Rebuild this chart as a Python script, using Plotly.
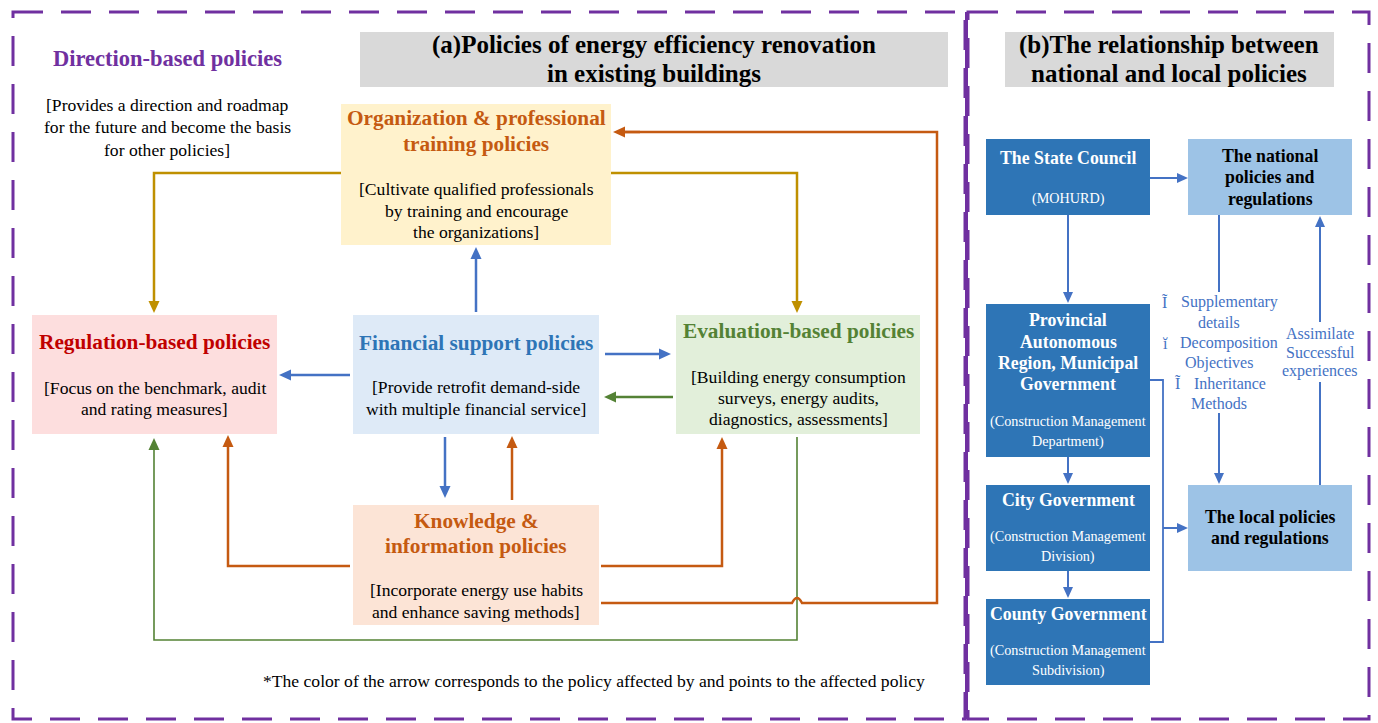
import plotly.graph_objects as go

# ---------------- text content ----------------
title_a = ["(a)Policies of energy efficiency renovation", "in existing buildings"]
title_b = ["(b)The relationship between", "national and local policies"]
direction_title = "Direction-based policies"
direction_desc = ["[Provides a direction and roadmap", "for the future and become the basis", "for other policies]"]

policy_keys = ["org", "reg", "fin", "eval", "know"]
policy_titles = {
    "org": ["Organization & professional", "training policies"],
    "reg": ["Regulation-based policies"],
    "fin": ["Financial support policies"],
    "eval": ["Evaluation-based policies"],
    "know": ["Knowledge &", "information policies"],
}
policy_descs = {
    "org": ["[Cultivate qualified professionals", "by training and encourage", "the organizations]"],
    "reg": ["[Focus on the benchmark, audit", "and rating measures]"],
    "fin": ["[Provide retrofit demand-side", "with multiple financial service]"],
    "eval": ["[Building energy consumption", "surveys, energy audits,", "diagnostics, assessments]"],
    "know": ["[Incorporate energy use habits", "and enhance saving methods]"],
}
footnote = "*The color of the arrow corresponds to the policy affected by and points to the affected policy"

gov_keys = ["state", "prov", "city", "county"]
gov_titles = {
    "state": ["The State Council"],
    "prov": ["Provincial", "Autonomous", "Region, Municipal", "Government"],
    "city": ["City Government"],
    "county": ["County Government"],
}
gov_subs = {
    "state": ["(MOHURD)"],
    "prov": ["(Construction Management", "Department)"],
    "city": ["(Construction Management", "Division)"],
    "county": ["(Construction Management", "Subdivision)"],
}
reg_keys = ["national", "local"]
reg_titles = {
    "national": ["The national", "policies and", "regulations"],
    "local": ["The local policies", "and regulations"],
}
down_notes = [("Ĩ", "Supplementary"), ("", "details"), ("ĭ", "Decomposition"),
              ("", "Objectives"), ("Ĩ", "Inheritance"), ("", "Methods")]
up_notes = ["Assimilate", "Successful", "experiences"]

# ---------------- layout / styles ----------------
W, H = 1378, 723
SERIF = "Liberation Serif"
PURPLE = "#7030A0"
GOLD = "#BF9000"
BLUE = "#4472C4"
GREEN = "#548235"
ORANGE = "#C55A11"

FS_TITLE = 25
FS_DIR = 22.5
FS_BOX = 21.3
FS_DESC = 17.6
FS_GOV = 17.8
FS_SUB = 14.2
FS_NOTE = 16

box_geom = {
    "org": (341, 104, 611, 245, "#FFF2CC", ORANGE, [118, 144], [189, 211, 232]),
    "reg": (32, 315, 277, 434, "#FDDEDE", "#C00000", [342], [388, 409]),
    "fin": (353, 315, 599, 434, "#DEEAF7", "#2E75B6", [343], [387, 409]),
    "eval": (676, 315, 920, 434, "#E2EFDA", GREEN, [331], [377, 398, 419]),
    "know": (353, 505, 599, 625, "#FCE4D6", ORANGE, [521, 546], [590, 612]),
}
gov_geom = {
    "state": (986, 139, 1150, 215, [158], [198]),
    "prov": (986, 304, 1150, 457, [320, 342, 363, 384], [421, 441]),
    "city": (986, 485, 1150, 571, [500], [536, 556]),
    "county": (986, 599, 1150, 685, [614], [650, 670]),
}
reg_geom = {
    "national": (1188, 139, 1352, 215, [156, 177, 199]),
    "local": (1188, 485, 1352, 571, [517, 538]),
}

shapes = []
annotations = []


def text(x, y, s, size, color="black", bold=False, xanchor="center"):
    annotations.append(dict(
        x=x, y=y, xref="x", yref="y", text=f"<b>{s}</b>" if bold else s,
        showarrow=False, xanchor=xanchor, yanchor="middle",
        font=dict(family=SERIF, size=size, color=color)))


def rect(x0, y0, x1, y1, fill, line=None, dash=None, lw=0):
    shapes.append(dict(type="rect", xref="x", yref="y", x0=x0, y0=y0, x1=x1, y1=y1,
                       fillcolor=fill, line=dict(width=lw, color=line or fill, dash=dash),
                       layer="below"))


def connector(points, color, width=2.5, head=True, hl=12, hw=5.5):
    pts = list(points)
    if head:
        (xa, ya), (xb, yb) = pts[-2], pts[-1]
        dx = (xb > xa) - (xb < xa)
        dy = (yb > ya) - (yb < ya)
        base = (xb - dx * hl, yb - dy * hl)
        pts[-1] = (xb - dx * (hl - 2), yb - dy * (hl - 2))
        px, py = -dy * hw, dx * hw
        tri = f"M {xb},{yb} L {base[0]+px},{base[1]+py} L {base[0]-px},{base[1]-py} Z"
        shapes.append(dict(type="path", path=tri, xref="x", yref="y",
                           fillcolor=color, line=dict(width=0, color=color)))
    path = "M " + " L ".join(f"{x},{y}" for x, y in pts)
    shapes.append(dict(type="path", path=path, xref="x", yref="y",
                       line=dict(width=width, color=color)))


# panel borders
shapes.append(dict(type="rect", xref="x", yref="y", x0=13, y0=12, x1=965, y1=719,
                   line=dict(color=PURPLE, width=3, dash="30px,18px")))
shapes.append(dict(type="rect", xref="x", yref="y", x0=968, y0=12, x1=1369, y1=719,
                   line=dict(color=PURPLE, width=3, dash="30px,18px")))
shapes.append(dict(type="line", xref="x", yref="y", x0=966.5, y0=12, x1=966.5, y1=719,
                   line=dict(color=PURPLE, width=3)))

# titles
rect(360, 32, 948, 87, "#D9D9D9")
text(654, 45, title_a[0], FS_TITLE, bold=True)
text(654, 73, title_a[1], FS_TITLE, bold=True)
rect(1005, 32, 1334, 87, "#D9D9D9")
text(1169, 45, title_b[0], FS_TITLE, bold=True)
text(1169, 73, title_b[1], FS_TITLE, bold=True)

text(167, 58, direction_title, FS_DIR, PURPLE, bold=True)
for yy, s in zip([105, 127, 150], direction_desc):
    text(167, yy, s, FS_DESC)

# policy boxes
for k in policy_keys:
    x0, y0, x1, y1, fill, tcol, ty, dy = box_geom[k]
    rect(x0, y0, x1, y1, fill)
    cx = (x0 + x1) / 2
    for yy, s in zip(ty, policy_titles[k]):
        text(cx, yy, s, FS_BOX, tcol, bold=True)
    for yy, s in zip(dy, policy_descs[k]):
        text(cx, yy, s, FS_DESC)

text(594, 681, footnote, FS_DESC)

# left-panel connectors
connector([(341, 173), (154, 173), (154, 313)], GOLD)
connector([(611, 173), (797, 173), (797, 313)], GOLD)
connector([(476, 312), (476, 247)], BLUE)
connector([(350, 375), (279, 375)], BLUE)
connector([(605, 354), (671, 354)], BLUE)
connector([(673, 397), (604, 397)], GREEN)
connector([(445, 437), (445, 498)], BLUE)
connector([(512, 500), (512, 436)], ORANGE)
connector([(350, 566), (228, 566), (228, 435)], ORANGE)
connector([(601, 566), (722, 566), (722, 437)], ORANGE)
connector([(797, 437), (797, 640), (154, 640), (154, 438)], GREEN, width=1.6)
# orange long connector with hop over the green line
shapes.append(dict(type="path", xref="x", yref="y",
                   path="M 601,603 L 792,603 Q 797,593 802,603 L 937,603 L 937,132 L 624,132",
                   line=dict(width=2.5, color=ORANGE)))
connector([(640, 132), (613, 132)], ORANGE)

# right panel boxes
for k in gov_keys:
    x0, y0, x1, y1, ty, sy = gov_geom[k]
    rect(x0, y0, x1, y1, "#2E75B6")
    cx = (x0 + x1) / 2
    for yy, s in zip(ty, gov_titles[k]):
        text(cx, yy, s, FS_GOV, "white", bold=True)
    for yy, s in zip(sy, gov_subs[k]):
        text(cx, yy, s, FS_SUB, "white")
for k in reg_keys:
    x0, y0, x1, y1, ty = reg_geom[k]
    rect(x0, y0, x1, y1, "#9DC3E6")
    cx = (x0 + x1) / 2
    for yy, s in zip(ty, reg_titles[k]):
        text(cx, yy, s, FS_GOV, "black", bold=True)

# right-panel connectors
connector([(1150, 178), (1188, 178)], BLUE, width=2, hl=11, hw=5)
connector([(1068, 215), (1068, 303)], BLUE, width=2, hl=11, hw=5)
connector([(1068, 457), (1068, 484)], BLUE, width=2, hl=11, hw=5)
connector([(1068, 571), (1068, 598)], BLUE, width=2, hl=11, hw=5)
connector([(1150, 380), (1163, 380), (1163, 642), (1150, 642)], BLUE, width=1.8, head=False)
connector([(1163, 528), (1188, 528)], BLUE, width=2, hl=11, hw=5)
connector([(1219, 215), (1219, 292)], BLUE, width=2, head=False)
connector([(1219, 413), (1219, 484)], BLUE, width=2, hl=11, hw=5)
connector([(1320, 485), (1320, 382)], BLUE, width=2, head=False)
connector([(1320, 322), (1320, 216)], BLUE, width=2, hl=11, hw=5)

note_pos = [(1165, 1179, 302), (None, 1219, 322), (1165, 1178, 343),
            (None, 1219, 363), (1178, 1192, 383), (None, 1219, 403)]
for (bx, tx, yy), (b, s) in zip(note_pos, down_notes):
    if bx is None:
        text(tx, yy, s, FS_NOTE, BLUE)
    else:
        text(bx, yy, b, FS_NOTE, BLUE)
        text(tx, yy, s, FS_NOTE, BLUE, xanchor="left")
for yy, s in zip([333, 352, 371], up_notes):
    text(1320, yy, s, FS_NOTE, BLUE)

fig = go.Figure()
fig.update_layout(
    width=W, height=H, margin=dict(l=0, r=0, t=0, b=0),
    paper_bgcolor="white", plot_bgcolor="white",
    xaxis=dict(range=[0, W], visible=False, fixedrange=True),
    yaxis=dict(range=[H, 0], visible=False, fixedrange=True),
    shapes=shapes, annotations=annotations, showlegend=False,
)
fig.write_html("out.html", config={"displayModeBar": False},
               post_script="document.body.style.margin='0';document.body.style.overflow='hidden';")
